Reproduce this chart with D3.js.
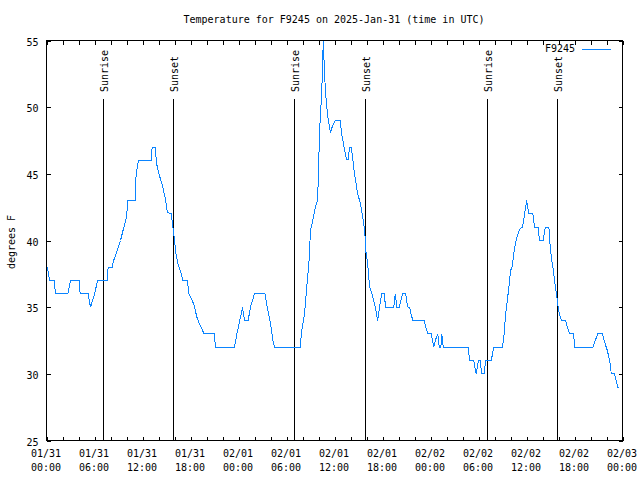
<!DOCTYPE html>
<html>
<head>
<meta charset="utf-8">
<script src="https://cdn.jsdelivr.net/npm/d3@7/dist/d3.min.js"></script>
<style>
  html, body { margin: 0; padding: 0; background: #fff; }
  svg { display: block; }
  text { font-family: "DejaVu Sans Mono", "Liberation Mono", monospace; font-size: 10px; fill: #000; }
</style>
</head>
<body>
<svg id="chart" width="640" height="480"></svg>
<script>
// Hours since 2025-01-31 00:00 UTC
const hours = [0.0,0.1,0.4,1.0,1.1,2.67,3.0,4.1,4.2,5.2,5.5,5.9,6.4,7.6,7.7,8.2,8.4,8.83,9.25,9.67,10.0,10.17,11.1,11.2,11.5,13.1,13.2,13.6,13.75,14.0,14.5,14.9,15.1,15.6,15.85,16.0,16.2,16.5,16.9,17.0,17.6,17.8,18.4,18.8,19.0,19.7,21.0,21.1,23.5,23.8,24.25,24.5,24.75,25.2,25.5,26.0,27.3,27.6,28.0,28.3,28.5,31.7,31.9,32.25,32.6,32.8,33.0,33.2,33.6,33.9,34.0,34.2,34.4,34.6,34.75,34.9,35.1,35.3,35.5,35.7,36.1,36.7,36.9,37.2,37.5,37.7,37.9,38.1,38.3,38.5,38.7,38.9,39.25,39.6,39.8,39.9,40.1,40.4,40.7,41.0,41.25,41.4,41.75,41.9,42.2,42.4,43.4,43.6,43.8,44.1,44.5,44.9,45.0,45.2,45.4,45.55,45.8,47.2,47.4,47.7,48.1,48.25,48.4,48.6,48.9,49.1,49.3,49.4,49.6,52.7,52.9,53.4,53.7,54.0,54.2,54.4,54.7,54.9,55.6,55.9,57.0,57.2,57.4,57.5,57.8,58.0,58.2,58.4,58.6,58.8,59.0,59.2,59.5,59.7,59.9,60.0,60.15,60.3,60.8,61.0,61.5,61.6,62.1,62.25,62.4,62.8,62.9,63.1,63.3,63.5,63.75,63.9,64.1,64.4,64.9,65.1,65.4,65.9,66.0,68.3,68.6,68.9,69.5,69.7,70.1,70.4,70.6,71.0,71.2,71.4,71.5];
const temps = [38,38,37,37,36,36,37,37,36,36,35,35.75,37,37,38,38,38.5,39.25,40,41,41.75,43,43,45,46,46,47,47,45.8,45.1,44.1,43,42.1,42,40.75,40,38.9,38.1,37.4,37,37,36,35.25,34.25,33.9,33,33,32,32,33,34.25,35,34,34,35,36,36,35,33.75,32.5,32,32,33.2,34.5,37,38.25,40.75,41.25,42.5,43,45.5,49,51,55,52.5,51,49.6,48.75,48.1,48.5,49,49,48,47,46.1,46.1,47,47,46,45,44.25,43.5,42.75,41.5,40.5,39.25,38.5,36.5,36,35.25,34.5,34,35.5,36,36,35,35,36,35,35,36,36,35.5,35,35,34.5,34,34,33.5,33,33,32.5,32,32.5,33,32,32,33,32,32,31,31,30,31,31,30,30,31,31,32,32,33,34.5,35,36.5,37.75,38,39,39.75,40.25,40.6,40.9,41,41.75,42.5,43,42.5,42,42,41,41,40,40,40.75,41,41,40,38.75,38,37,36,35.25,34.5,34,34,33.5,33,33,32,32,32.5,33,33,32.5,31.75,31,30,30,29.5,29,29];

const sunriseHours = [7.17, 31.04, 55.08];
const sunsetHours = [15.92, 39.92, 63.9];

const xTickLabelHours = [0, 6, 12, 18, 24, 30, 36, 42, 48, 54, 60, 66, 72];
const xTickDates = ["01/31","01/31","01/31","01/31","02/01","02/01","02/01","02/01","02/02","02/02","02/02","02/02","02/03"];
const xTickTimes = ["00:00","06:00","12:00","18:00","00:00","06:00","12:00","18:00","00:00","06:00","12:00","18:00","00:00"];
const xMinorHours = d3.range(0, 73, 2);
const yTicks = [25, 30, 35, 40, 45, 50, 55];

const seriesName = "F9245";
const title = "Temperature for F9245 on 2025-Jan-31 (time in UTC)";
const yLabel = "degrees F";

const L = 46, R = 622, T = 40, B = 440;
const svg = d3.select("#chart");
svg.append("rect").attr("width", 640).attr("height", 480).attr("fill", "#fff");
const g = svg.append("g").attr("transform", "translate(0.5,0.5)");

const x = d3.scaleLinear().domain([0, 72]).range([L, R]);
const y = d3.scaleLinear().domain([25, 55]).range([B, T]);

// Title
svg.append("text").attr("x", (L + R) / 2).attr("y", 23).attr("text-anchor", "middle").text(title);

// Axes ticks
g.append("g").attr("transform", `translate(0,${B})`)
  .call(d3.axisBottom(x).tickValues(xMinorHours).tickSize(-4).tickSizeOuter(0).tickFormat(""))
  .call(s => s.select(".domain").remove());
g.append("g").attr("transform", `translate(0,${T})`)
  .call(d3.axisTop(x).tickValues(xMinorHours).tickSize(-4).tickSizeOuter(0).tickFormat(""))
  .call(s => s.select(".domain").remove());
g.append("g").attr("transform", `translate(${L},0)`)
  .call(d3.axisLeft(y).tickValues(yTicks).tickSize(-4).tickSizeOuter(0).tickPadding(8).tickFormat(d3.format("d")))
  .call(s => s.select(".domain").remove())
  .call(s => s.selectAll("text").attr("dy", null).attr("y", 4.5).style("font-family", '"DejaVu Sans Mono", monospace').style("font-size", "10px"));
g.append("g").attr("transform", `translate(${R},0)`)
  .call(d3.axisRight(y).tickValues(yTicks).tickSize(-4).tickSizeOuter(0).tickFormat(""))
  .call(s => s.select(".domain").remove());

g.selectAll(".tick line").attr("stroke", "#000").attr("shape-rendering", "crispEdges");

// X tick labels (two lines)
const xl = svg.append("g");
xTickLabelHours.forEach((h, i) => {
  const t = xl.append("text").attr("text-anchor", "middle");
  t.append("tspan").attr("x", x(h)).attr("y", 457).text(xTickDates[i]);
  t.append("tspan").attr("x", x(h)).attr("y", 471).text(xTickTimes[i]);
});

// Y label
svg.append("text").attr("transform", "translate(15,242) rotate(-90)").attr("text-anchor", "middle").text(yLabel);

// Sunrise / sunset markers
const events = sunriseHours.map(h => ({h, label: "Sunrise"})).concat(sunsetHours.map(h => ({h, label: "Sunset"})));
events.forEach(e => {
  g.append("line").attr("x1", Math.round(x(e.h))).attr("x2", Math.round(x(e.h)))
    .attr("y1", 98).attr("y2", B).attr("stroke", "#000").attr("shape-rendering", "crispEdges");
  svg.append("text").attr("transform", `translate(${Math.round(x(e.h)) + 4.5},92) rotate(-90)`)
    .attr("text-anchor", "start").text(e.label);
});

// Data line
const data = hours.map((h, i) => ({h, t: temps[i]}));
g.append("path").datum(data)
  .attr("fill", "none").attr("stroke", "#0a84ff").attr("stroke-width", 1)
  .attr("shape-rendering", "crispEdges")
  .attr("d", d3.line().x(d => x(d.h)).y(d => y(d.t)));

// Frame
g.append("rect").attr("x", L).attr("y", T).attr("width", R - L).attr("height", B - T)
  .attr("fill", "none").attr("stroke", "#000").attr("shape-rendering", "crispEdges");

// Legend
svg.append("text").attr("x", 575).attr("y", 52).attr("text-anchor", "end").text(seriesName);
g.append("line").attr("x1", 581).attr("x2", 610).attr("y1", 49).attr("y2", 49)
  .attr("stroke", "#0a84ff").attr("shape-rendering", "crispEdges");
</script>
</body>
</html>
